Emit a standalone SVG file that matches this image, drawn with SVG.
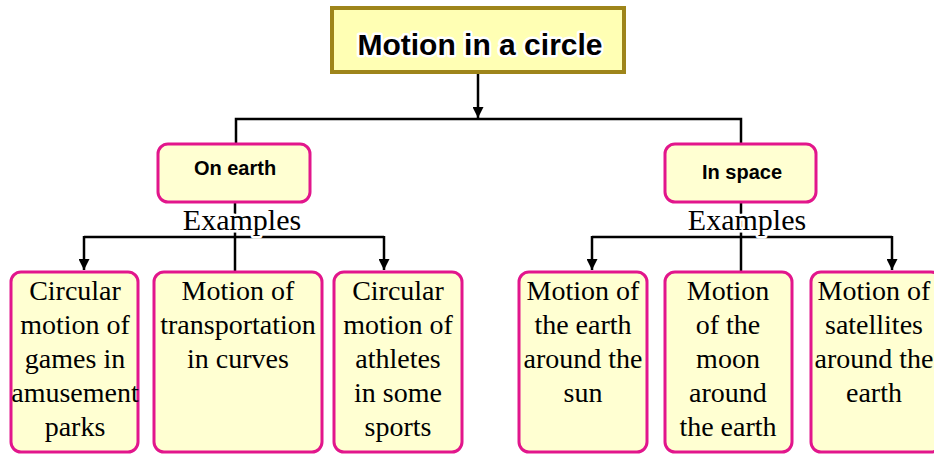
<svg xmlns="http://www.w3.org/2000/svg" width="934" height="455" viewBox="0 0 934 455">
<style>
.conn{fill:none;stroke:#000;stroke-width:2.5}
.box{fill:#FFFFD2;stroke:#E2168C;stroke-width:3}
.hd{font-family:"Liberation Sans",Arial,sans-serif;font-weight:bold;font-size:20px;fill:#000;text-anchor:middle}
.ex{font-family:"Liberation Serif","Times New Roman",serif;font-size:30px;fill:#000;text-anchor:middle;stroke:#fff;stroke-width:5;paint-order:stroke;stroke-linejoin:round}
.lf{font-family:"Liberation Serif","Times New Roman",serif;font-size:28px;fill:#000;text-anchor:middle}
</style>
<defs>
<marker id="ah" viewBox="0 0 10 10" refX="10" refY="5" markerWidth="11" markerHeight="11" markerUnits="userSpaceOnUse" orient="auto">
<path d="M0,0 L10,5 L0,10 z" fill="#000"/>
</marker>
</defs>
<rect width="934" height="455" fill="#fff"/>
<g id="connectors">
<line class="conn" x1="478" y1="74" x2="478" y2="118" marker-end="url(#ah)"/>
<path class="conn" d="M236,145 V119 H741 V144"/>
<line class="conn" x1="235" y1="203" x2="235" y2="271"/>
<line class="conn" x1="741" y1="203" x2="741" y2="271"/>
<path class="conn" d="M84,237 H384"/>
<line class="conn" x1="84" y1="236" x2="84" y2="270" marker-end="url(#ah)"/>
<line class="conn" x1="384" y1="236" x2="384" y2="270" marker-end="url(#ah)"/>
<path class="conn" d="M592,237 H892"/>
<line class="conn" x1="592" y1="236" x2="592" y2="270" marker-end="url(#ah)"/>
<line class="conn" x1="892" y1="236" x2="892" y2="270" marker-end="url(#ah)"/>
</g>
<g id="title">
<rect x="332" y="8" width="292" height="64" fill="#FFFFB4" stroke="#9E851A" stroke-width="4"/>
<text x="480" y="55" font-family="'Liberation Sans',Arial,sans-serif" font-weight="bold" font-size="30" text-anchor="middle" fill="#000" stroke="#fff" stroke-width="5" paint-order="stroke" stroke-linejoin="round">Motion in a circle</text>
</g>
<g id="on-earth">
<rect class="box" x="158" y="144" width="152" height="58" rx="10"/>
<text class="hd" x="235" y="175">On earth</text>
</g>
<g id="in-space">
<rect class="box" x="665" y="144" width="151" height="58" rx="10"/>
<text class="hd" x="742" y="179">In space</text>
</g>
<text class="ex" x="242" y="230">Examples</text>
<text class="ex" x="747" y="230">Examples</text>
<g id="games">
<rect class="box" x="11" y="272" width="127" height="180" rx="10"/>
<text class="lf" x="75" y="300">Circular</text>
<text class="lf" x="75" y="334">motion of</text>
<text class="lf" x="75" y="368">games in</text>
<text class="lf" x="75" y="402">amusement</text>
<text class="lf" x="75" y="436">parks</text>
</g>
<g id="transport">
<rect class="box" x="154" y="272" width="168" height="180" rx="10"/>
<text class="lf" x="238" y="300">Motion of</text>
<text class="lf" x="238" y="334">transportation</text>
<text class="lf" x="238" y="368">in curves</text>
</g>
<g id="athletes">
<rect class="box" x="334" y="272" width="128" height="180" rx="10"/>
<text class="lf" x="398" y="300">Circular</text>
<text class="lf" x="398" y="334">motion of</text>
<text class="lf" x="398" y="368">athletes</text>
<text class="lf" x="398" y="402">in some</text>
<text class="lf" x="398" y="436">sports</text>
</g>
<g id="earth-sun">
<rect class="box" x="519" y="272" width="128" height="180" rx="10"/>
<text class="lf" x="583" y="300">Motion of</text>
<text class="lf" x="583" y="334">the earth</text>
<text class="lf" x="583" y="368">around the</text>
<text class="lf" x="583" y="402">sun</text>
</g>
<g id="moon-earth">
<rect class="box" x="665" y="272" width="127" height="180" rx="10"/>
<text class="lf" x="728" y="300">Motion</text>
<text class="lf" x="728" y="334">of the</text>
<text class="lf" x="728" y="368">moon</text>
<text class="lf" x="728" y="402">around</text>
<text class="lf" x="728" y="436">the earth</text>
</g>
<g id="satellites">
<rect class="box" x="811" y="272" width="130" height="180" rx="10"/>
<text class="lf" x="874" y="300">Motion of</text>
<text class="lf" x="874" y="334">satellites</text>
<text class="lf" x="874" y="368">around the</text>
<text class="lf" x="874" y="402">earth</text>
</g>
</svg>
